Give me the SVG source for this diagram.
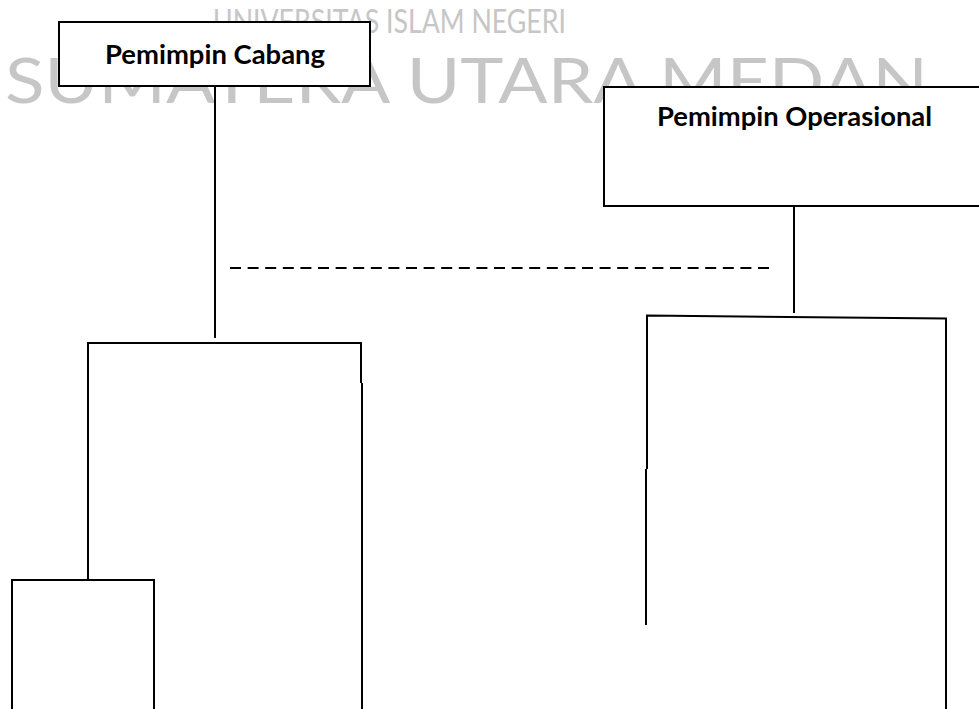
<svg xmlns="http://www.w3.org/2000/svg" width="979" height="709" viewBox="0 0 979 709">
  <style>
    .wm { font-family: Lato, "Open Sans", "Liberation Sans", sans-serif; font-weight: 400; fill: #c6c6c6; }
    .box { fill: #ffffff; stroke: #000000; stroke-width: 2; }
    .label { font-family: Lato, "Open Sans", "Liberation Sans", sans-serif; font-weight: 700; font-size: 26px; fill: #000000; }
    .ln { fill: none; stroke: #000000; stroke-width: 2; }
    .dash { fill: none; stroke: #000000; stroke-width: 2; stroke-dasharray: 11 6.6; }
  </style>

  <rect width="979" height="709" fill="#ffffff"/>

  <!-- background watermark -->
  <g id="watermark">
    <text class="wm" x="213" y="33" font-size="32" textLength="353" lengthAdjust="spacingAndGlyphs">UNIVERSITAS ISLAM NEGERI</text>
    <text class="wm" x="5" y="103" font-size="62" textLength="923" lengthAdjust="spacingAndGlyphs">SUMATERA UTARA MEDAN</text>
  </g>

  <!-- connectors -->
  <g id="connectors">
    <path class="ln" d="M215 86 V338"/>
    <path class="ln" d="M88 580 V343 H362"/>
    <path class="ln" d="M361 343 V383 M362 383 V709"/>
    <path class="ln" d="M12 709 V580 H154 V709"/>
    <path class="ln" d="M794 206 V313"/>
    <path class="ln" d="M647 469 V315.5 L946 318.5 V709"/>
    <path class="ln" d="M646 469 V625"/>
    <path class="dash" d="M230 268 H775"/>
  </g>

  <g id="pemimpin-cabang">
    <rect class="box" x="59" y="22" width="311" height="64"/>
    <text class="label" x="215" y="64" text-anchor="middle" textLength="220" lengthAdjust="spacingAndGlyphs">Pemimpin Cabang</text>
  </g>

  <g id="pemimpin-operasional">
    <rect class="box" x="604" y="87" width="390" height="119"/>
    <text class="label" x="794.5" y="126" text-anchor="middle" textLength="275" lengthAdjust="spacingAndGlyphs">Pemimpin Operasional</text>
  </g>
</svg>
